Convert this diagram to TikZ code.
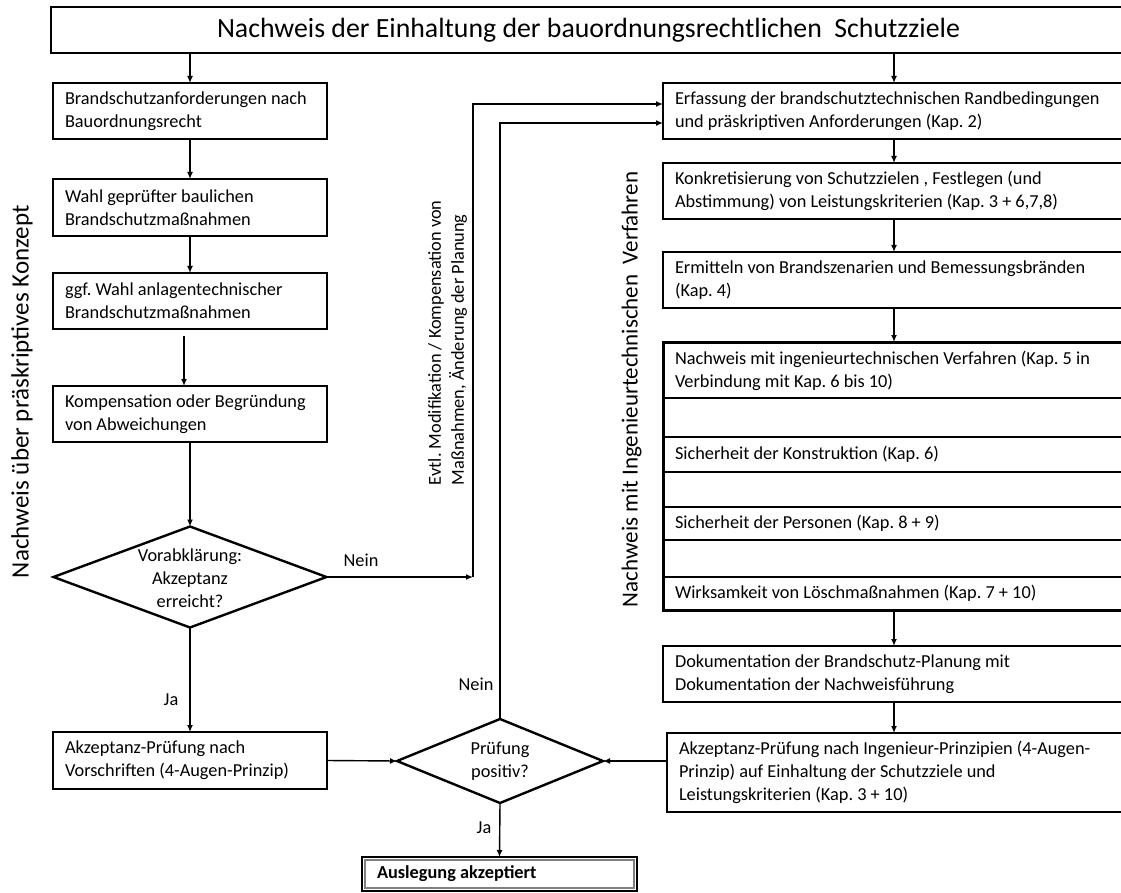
\documentclass[tikz,border=0pt]{standalone}
\usepackage{fontspec}
\setmainfont{Carlito}
\newfontfamily\sidefont{Carlito}
\usetikzlibrary{arrows.meta,shapes.geometric}
\begin{document}
\frenchspacing
\begin{tikzpicture}[x=1pt,y=-1pt,
  every node/.style={font=\fontsize{18.3}{23}\selectfont, inner sep=0pt, outer sep=0pt},
  natspace/.style={execute at begin node={\spaceskip=0pt\xspaceskip=0pt\relax}},
  lbox/.style={draw, line width=1.3pt, anchor=north west, align=left, natspace, inner xsep=12pt, minimum width=274pt, text width=250pt},
  rbox/.style={draw, line width=1.3pt, anchor=north west, align=left, natspace, inner xsep=12pt, minimum width=487pt, text width=463pt},
  dia/.style={draw, diamond, line width=2.4pt},
  arr/.style={line width=1.4pt, -{Latex[length=7pt,width=6pt]}},
  rowline/.style={line width=1.8pt},
  lab/.style={font=\fontsize{18.3}{23}\selectfont},
  side/.style={rotate=90, anchor=west}
]
\useasboundingbox (0,0) rectangle (1121,893);
\clip (0,0) rectangle (1121,893);

% title
\node[draw, line width=1.3pt, anchor=north west, minimum height=46pt, inner xsep=166pt, text width=767pt, align=left, natspace,
      font=\sidefont\fontsize{27.8}{32}\selectfont] (title) at (51,7) {Nachweis der Einhaltung der bauordnungsrechtlichen\ \ Schutzziele};

% left column
\node[lbox, minimum height=56pt] (b1) at (53,83) {Brandschutzanforderungen nach\\Bauordnungsrecht};
\node[lbox, minimum height=57pt] (b2) at (53,179) {Wahl geprüfter baulichen\\Brandschutzmaßnahmen};
\node[lbox, minimum height=56pt] (b3) at (53,273) {ggf. Wahl anlagentechnischer\\Brandschutzmaßnahmen};
\node[lbox, minimum height=56pt] (b4) at (53,386) {Kompensation oder Begründung\\von Abweichungen};

\node[dia, minimum width=273pt, minimum height=101pt] (d1) at (190,577) {};
\node[align=center] (d1t) at (190,578) {Vorabklärung:\\Akzeptanz\\erreicht?};

\node[lbox, minimum height=57pt] (av) at (53,732) {Akzeptanz-Prüfung nach\\Vorschriften (4-Augen-Prinzip)};

\node[dia, minimum width=206pt, minimum height=84pt] (d2) at (500,761) {};
\node[align=center] (d2t) at (500,761) {Prüfung\\positiv?};

\node[draw, line width=2.4pt, anchor=north west, minimum width=275pt, minimum height=34pt, inner xsep=15pt, text width=245pt,
      align=left, natspace, font=\fontsize{18.3}{23}\selectfont\bfseries] (ausl) at (362,857) {Auslegung akzeptiert};
\draw[gray, line width=1.1pt] ([shift={(3pt,-3pt)}]ausl.north west) rectangle ([shift={(-3pt,3pt)}]ausl.south east);

% right column
\node[rbox, minimum height=56pt] (erf) at (663,83) {Erfassung der brandschutztechnischen Randbedingungen\\und präskriptiven Anforderungen (Kap. 2)};
\node[rbox, minimum height=56pt] (kon) at (663,163) {Konkretisierung von Schutzzielen , Festlegen (und\\Abstimmung) von Leistungskriterien (Kap. 3 + 6,7,8)};
\node[rbox, minimum height=56pt] (erm) at (663,252) {Ermitteln von Brandszenarien und Bemessungsbränden\\(Kap. 4)};

\node[draw, line width=3pt, anchor=north west, minimum width=487pt, minimum height=268pt] (big) at (663,342) {};
\draw[rowline] (663,398) -- (1150,398);
\draw[rowline] (663,437) -- (1150,437);
\draw[rowline] (663,472) -- (1150,472);
\draw[rowline] (663,507) -- (1150,507);
\draw[rowline] (663,540) -- (1150,540);
\draw[rowline] (663,577) -- (1150,577);
\node[anchor=west, align=left] (g1) at (675,370.5) {Nachweis mit ingenieurtechnischen Verfahren (Kap. 5 in\\Verbindung mit Kap. 6 bis 10)};
\node[anchor=west] (g3) at (675,454.5) {Sicherheit der Konstruktion (Kap. 6)};
\node[anchor=west] (g5) at (675,523.5) {Sicherheit der Personen (Kap. 8 + 9)};
\node[anchor=west] (g7) at (675,593.5) {Wirksamkeit von Löschmaßnahmen (Kap. 7 + 10)};

\node[rbox, minimum height=56pt] (dok) at (663,646) {Dokumentation der Brandschutz-Planung mit\\Dokumentation der Nachweisführung};
\node[rbox, minimum height=79pt, minimum width=483pt, text width=459pt] (aki) at (667,733) {Akzeptanz-Prüfung nach Ingenieur-Prinzipien (4-Augen-\\Prinzip) auf Einhaltung der Schutzziele und\\Leistungskriterien (Kap. 3 + 10)};

% side labels
\node[side, font=\sidefont\fontsize{25}{29}\selectfont] (sl) at (22,578) {Nachweis über präskriptives Konzept};
\node[side, font=\sidefont\fontsize{23}{27}\selectfont] (sr) at (631.5,607) {Nachweis mit Ingenieurtechnischen\ \ Verfahren};
\node[rotate=90, anchor=west, align=left] (mod) at (447.5,485) {Evtl. Modifikation / Kompensation von\\Maßnahmen, Änderung der Planung};

% connectors
\coordinate (rx) at (894,0);
\coordinate (c1) at (473,577);
\draw[arr] (b1.north |- title.south) -- (b1.north);
\draw[arr] (b1) -- (b2);
\draw[arr] (b2) -- (b3);
\draw[arr] ([xshift=-6pt,yshift=-7pt]b3.south) -- ([xshift=-6pt]b4.north);
\draw[arr] (b4.south) -- (d1.north);
\draw[arr] (d1.south) -- (av.north);
\draw[arr] (av.east) -- (d2.west);
\draw[arr] (aki.west |- d2.east) -- (d2.east);
\draw[arr] (d2.south) -- (ausl.north);
\draw[arr] (d1.east) -- (c1);
\draw[arr] (c1) |- ([yshift=7pt]erf.west);
\draw[arr] (d2.north) |- ([yshift=-12pt]erf.west);

\draw[arr] (title.south -| rx) -- (erf.north -| rx);
\draw[arr] (erf.south -| rx) -- (kon.north -| rx);
\draw[arr] (kon.south -| rx) -- (erm.north -| rx);
\draw[arr] (erm.south -| rx) -- (big.north -| rx);
\draw[arr] (big.south -| rx) -- (dok.north -| rx);
\draw[arr] (dok.south -| rx) -- (aki.north -| rx);

% labels
\node[lab] (n1) at (361,560) {Nein};
\node[lab] (j1) at (171,700) {Ja};
\node[lab] (n2) at (476,684) {Nein};
\node[lab] (j2) at (484,828) {Ja};
\end{tikzpicture}
\end{document}
